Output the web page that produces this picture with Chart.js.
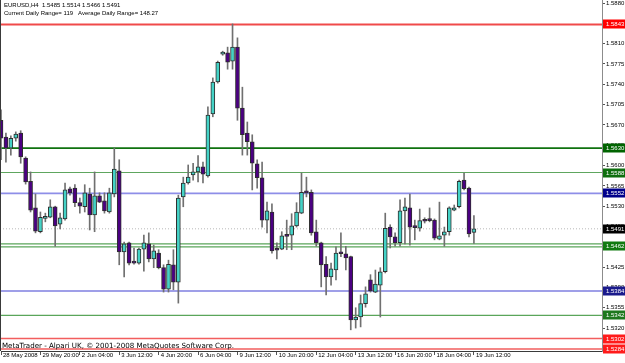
<!DOCTYPE html>
<html><head><meta charset="utf-8">
<script src="https://cdn.jsdelivr.net/npm/chart.js@4.4.0/dist/chart.umd.min.js"></script>
<style>html,body{margin:0;padding:0;background:#fff;overflow:hidden}#wrap{width:625px;height:363px;position:relative}</style>
</head><body><div id="wrap"><canvas id="c" width="625" height="363"></canvas></div>
<script>
const symbolTitle = "EURUSD,H4";
const headerValues = ["1.5485", "1.5514", "1.5466", "1.5491"];
const rangeText = "Current Daily Range= 119   Average Daily Range= 148.27";
const footerText = "MetaTrader - Alpari UK, \u00A9 2001-2008 MetaQuotes Software Corp.";

const timeLabels = ["28 May 2008","29 May 20:00","2 Jun 04:00","3 Jun 12:00","4 Jun 20:00","6 Jun 04:00","9 Jun 12:00","10 Jun 20:00","12 Jun 04:00","13 Jun 12:00","16 Jun 20:00","18 Jun 04:00","19 Jun 12:00"];
const barsPerLabel = 8;
const totalSlots = 123;

const opens = [1.5678,1.5649,1.5630,1.5647,1.5656,1.5613,1.5573,1.5527,1.5486,1.5509,
1.5511,1.5529,1.5499,1.5508,1.5560,1.5561,1.5536,1.5529,1.5551,1.5515,
1.5548,1.5539,1.5520,1.5551,1.5591,1.5451,1.5467,1.5434,1.5432,1.5456,
1.5465,1.5439,1.5449,1.5424,1.5387,1.5429,1.5399,1.5546,1.5570,1.5584,
1.5589,1.5598,1.5582,1.5689,1.5744,1.5792,1.5794,1.5780,1.5804,1.5699,
1.5656,1.5641,1.5603,1.5579,1.5506,1.5520,1.5455,1.5456,1.5479,1.5480,
1.5496,1.5518,1.5554,1.5554,1.5486,1.5467,1.5430,1.5408,1.5420,1.5449,
1.5448,1.5443,1.5334,1.5339,1.5362,1.5403,1.5382,1.5394,1.5417,1.5494,
1.5477,1.5467,1.5522,1.5527,1.5494,1.5492,1.5505,1.5506,1.5506,1.5473,
1.5480,1.5486,1.5523,1.5529,1.5575,1.5561,1.5485];
const highs = [1.5696,1.5656,1.5651,1.5658,1.5660,1.5615,1.5589,1.5551,1.5520,1.5518,
1.5541,1.5530,1.5518,1.5570,1.5563,1.5567,1.5544,1.5567,1.5561,1.5589,
1.5553,1.5553,1.5561,1.5630,1.5610,1.5468,1.5468,1.5458,1.5458,1.5480,
1.5484,1.5463,1.5455,1.5429,1.5437,1.5455,1.5549,1.5580,1.5601,1.5604,
1.5617,1.5606,1.5701,1.5751,1.5780,1.5797,1.5804,1.5844,1.5820,1.5735,
1.5675,1.5653,1.5610,1.5606,1.5537,1.5534,1.5467,1.5486,1.5506,1.5517,
1.5536,1.5587,1.5580,1.5558,1.5506,1.5468,1.5443,1.5432,1.5460,1.5484,
1.5461,1.5444,1.5355,1.5377,1.5391,1.5412,1.5420,1.5424,1.5518,1.5498,
1.5484,1.5541,1.5544,1.5551,1.5506,1.5525,1.5510,1.5527,1.5508,1.5537,
1.5494,1.5529,1.5532,1.5575,1.5587,1.5563,1.5514];
const lows = [1.5610,1.5606,1.5618,1.5642,1.5604,1.5568,1.5520,1.5484,1.5484,1.5503,
1.5510,1.5461,1.5491,1.5506,1.5549,1.5529,1.5518,1.5520,1.5489,1.5486,
1.5536,1.5518,1.5518,1.5546,1.5429,1.5408,1.5429,1.5430,1.5430,1.5418,
1.5434,1.5424,1.5422,1.5382,1.5382,1.5386,1.5363,1.5529,1.5568,1.5575,
1.5572,1.5570,1.5580,1.5684,1.5742,1.5790,1.5766,1.5766,1.5678,1.5618,
1.5618,1.5558,1.5561,1.5494,1.5484,1.5449,1.5439,1.5455,1.5455,1.5455,
1.5494,1.5517,1.5546,1.5480,1.5461,1.5391,1.5377,1.5394,1.5403,1.5443,
1.5420,1.5317,1.5320,1.5322,1.5356,1.5382,1.5381,1.5339,1.5415,1.5458,
1.5461,1.5461,1.5465,1.5463,1.5472,1.5487,1.5501,1.5503,1.5472,1.5472,
1.5461,1.5480,1.5522,1.5527,1.5558,1.5477,1.5466];
const closes = [1.5647,1.5630,1.5647,1.5654,1.5615,1.5572,1.5523,1.5487,1.5511,1.5510,
1.5529,1.5496,1.5510,1.5558,1.5553,1.5536,1.5530,1.5553,1.5515,1.5548,
1.5537,1.5522,1.5553,1.5594,1.5451,1.5465,1.5432,1.5432,1.5456,1.5467,
1.5439,1.5453,1.5424,1.5387,1.5430,1.5399,1.5544,1.5570,1.5580,1.5589,
1.5598,1.5585,1.5687,1.5744,1.5778,1.5794,1.5778,1.5804,1.5699,1.5653,
1.5641,1.5604,1.5579,1.5506,1.5522,1.5453,1.5454,1.5479,1.5478,1.5496,
1.5520,1.5554,1.5553,1.5484,1.5467,1.5429,1.5408,1.5422,1.5449,1.5448,
1.5441,1.5334,1.5339,1.5362,1.5379,1.5384,1.5396,1.5417,1.5492,1.5477,
1.5467,1.5522,1.5529,1.5494,1.5493,1.5505,1.5504,1.5505,1.5475,1.5479,
1.5486,1.5527,1.5527,1.5573,1.5560,1.5482,1.5491];

const priceTicks = [1.5880,1.5845,1.5810,1.5775,1.5740,1.5705,1.5670,1.5635,1.5600,1.5565,1.5530,1.5495,1.5460,1.5425,1.5390,1.5355,1.5320];
const priceMin = 1.52805;
const priceMax = 1.58852;

const lineLevels = [1.5843, 1.5630, 1.5588, 1.5552, 1.5491, 1.5465, 1.5460, 1.5384, 1.5342, 1.5302, 1.5284];
const labelLevels = [1.5843, 1.5630, 1.5588, 1.5552, 1.5491, 1.5462, 1.5384, 1.5342, 1.5302, 1.5284];

// styles (kept apart from data)
const lineStyles = [
  {c:'#f04a4a', w:2}, {c:'#0f720f', w:1.6}, {c:'#5ea65e', w:1.2}, {c:'#8e8ee8', w:1.8},
  {c:'#b8b8b8', w:1, dash:[1,2]}, {c:'#5aa55a', w:1.2}, {c:'#5aa55a', w:1.2},
  {c:'#7f7fe0', w:1.5}, {c:'#5aa55a', w:1.2}, {c:'#f25e5e', w:1.5}, {c:'#f25e5e', w:1.5}
];
const boxColors = ['#ff0000','#006400','#0e6e0e','#00008b','#000000','#107a10','#1a1a8c','#1e781e','#ff1a1a','#ff1a1a'];
const bullColor = '#44d2c6';
const bearColor = '#4b0082';
const wickColor = '#707070';
const outlineColor = '#2e2e2e';
const FONT = '"Liberation Sans", Arial, sans-serif';

const categories = [];
for (let i = 0; i < totalSlots; i++) {
  categories.push(i % barsPerLabel === 0 && (i / barsPerLabel) < timeLabels.length ? timeLabels[i / barsPerLabel] : '');
}
const bodyData = opens.map((o, i) => [o, closes[i]]);
const wickData = lows.map((l, i) => [l, highs[i]]);

const decorPlugin = {
  id: 'decor',
  beforeDatasetsDraw(chart) {
    const {ctx, chartArea: a, scales: {y}} = chart;
    ctx.save();
    lineLevels.forEach((v, i) => {
      const s = lineStyles[i];
      const py = y.getPixelForValue(v);
      ctx.beginPath();
      ctx.strokeStyle = s.c; ctx.lineWidth = s.w;
      ctx.setLineDash(s.dash || []);
      ctx.moveTo(a.left - 1, py); ctx.lineTo(a.right, py); ctx.stroke();
    });
    ctx.restore();
  },
  afterDraw(chart) {
    const {ctx, chartArea: a, scales: {y}} = chart;
    ctx.save();
    ctx.strokeStyle = '#3a3a3a'; ctx.lineWidth = 1; ctx.setLineDash([]);
    ctx.beginPath(); ctx.moveTo(0.5, 0); ctx.lineTo(0.5, a.bottom); ctx.stroke();
    ctx.font = '6px ' + FONT;
    ctx.textBaseline = 'middle'; ctx.textAlign = 'left';
    labelLevels.forEach((v, i) => {
      const py = Math.round(y.getPixelForValue(v));
      ctx.fillStyle = boxColors[i];
      ctx.fillRect(a.right + 1, py - 4.5, 24, 9);
      ctx.fillStyle = '#ffffff';
      ctx.fillText(v.toFixed(4), a.right + 4, py + 0.5);
    });
    ctx.fillStyle = '#000'; ctx.textBaseline = 'top';
    ctx.font = '6px ' + FONT;
    ctx.fillText(symbolTitle + '  ' + headerValues.join(' '), 4, 2);
    ctx.fillText(rangeText, 4, 10);
    ctx.font = '7.1px "DejaVu Sans", sans-serif';
    ctx.fillText(footerText, 2, a.bottom - 8);
    ctx.restore();
  }
};

new Chart(document.getElementById('c'), {
  type: 'bar',
  data: {
    labels: categories,
    datasets: [
      {
        label: 'body', data: bodyData, order: 0, grouped: false,
        barThickness: 4, borderWidth: 1, borderSkipped: false, minBarLength: 2,
        borderColor: outlineColor,
        backgroundColor: c => (closes[c.dataIndex] >= opens[c.dataIndex] ? bullColor : bearColor)
      },
      {
        label: 'wick', data: wickData, order: 1, grouped: false,
        barThickness: 1, borderWidth: 0, backgroundColor: wickColor
      }
    ]
  },
  options: {
    responsive: false, animation: false, devicePixelRatio: 1,
    layout: {padding: {left: 1, top: 0, right: 0, bottom: 0}},
    plugins: {legend: {display: false}, tooltip: {enabled: false}},
    scales: {
      x: {
        offset: false,
        grid: {display: true, drawOnChartArea: false, tickLength: 4, tickColor: '#555', offset: false},
        border: {display: true, color: '#3a3a3a', width: 1},
        ticks: {autoSkip: false, maxRotation: 0, minRotation: 0, align: 'start', labelOffset: 2, padding: -3,
                color: '#000', font: {family: FONT, size: 6}},
        afterBuildTicks: s => { s.ticks = s.ticks.filter(t => t.value % barsPerLabel === 0 && t.value / barsPerLabel < timeLabels.length); },
        afterFit: s => { s.height = 12; s.paddingLeft = 0; s.paddingRight = 0; }
      },
      y: {
        position: 'right', min: priceMin, max: priceMax,
        grid: {display: true, drawOnChartArea: false, tickLength: 3, tickColor: '#555'},
        border: {display: true, color: '#8c8c8c', width: 1},
        ticks: {color: '#000', padding: 1, font: {family: FONT, size: 6}, callback: v => v.toFixed(4)},
        afterBuildTicks: s => { s.ticks = priceTicks.map(v => ({value: v})); },
        afterFit: s => { s.width = 23; s.paddingTop = 0; s.paddingBottom = 0; }
      }
    }
  },
  plugins: [decorPlugin]
});
</script>
</body></html>
